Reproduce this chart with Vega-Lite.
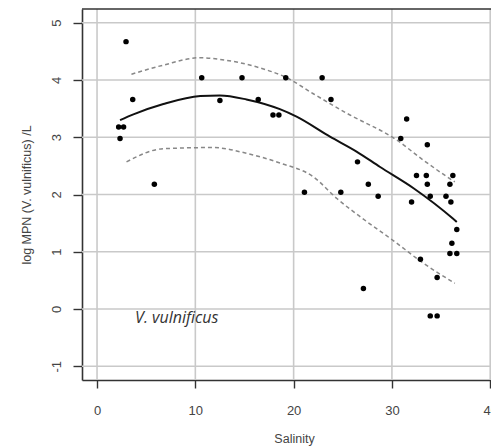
{
  "$schema": "https://vega.github.io/schema/vega-lite/v6.json",
  "width": 409,
  "height": 371,
  "autosize": {"type": "none"},
  "padding": {"left": 82, "top": 9, "right": 0, "bottom": 68},
  "background": "white",
  "config": {
    "view": {"stroke": null},
    "font": "Liberation Sans",
    "axis": {
      "grid": false,
      "domainColor": "#333333",
      "domainWidth": 1.6,
      "tickColor": "#333333",
      "tickWidth": 1.4,
      "labelFont": "Liberation Sans",
      "titleFont": "Liberation Sans",
      "labelColor": "#444444",
      "titleColor": "#444444",
      "labelFontSize": 13,
      "titleFontSize": 12.5,
      "titleFontWeight": "normal"
    }
  },
  "datasets": {
    "points": [
      {"salinity": 2.95, "logmpn": 4.67},
      {"salinity": 3.63, "logmpn": 3.66},
      {"salinity": 2.2, "logmpn": 3.18},
      {"salinity": 2.7, "logmpn": 3.18},
      {"salinity": 2.34, "logmpn": 2.98},
      {"salinity": 5.83, "logmpn": 2.18},
      {"salinity": 10.65, "logmpn": 4.04},
      {"salinity": 12.5, "logmpn": 3.64},
      {"salinity": 14.75, "logmpn": 4.04},
      {"salinity": 16.4, "logmpn": 3.66},
      {"salinity": 17.9, "logmpn": 3.39},
      {"salinity": 18.5, "logmpn": 3.39},
      {"salinity": 19.2, "logmpn": 4.04},
      {"salinity": 22.9, "logmpn": 4.04},
      {"salinity": 23.8, "logmpn": 3.66},
      {"salinity": 21.1, "logmpn": 2.04},
      {"salinity": 24.8, "logmpn": 2.04},
      {"salinity": 31.5, "logmpn": 3.32},
      {"salinity": 30.9, "logmpn": 2.98},
      {"salinity": 33.6, "logmpn": 2.87},
      {"salinity": 26.5, "logmpn": 2.57},
      {"salinity": 32.5, "logmpn": 2.33},
      {"salinity": 33.5, "logmpn": 2.33},
      {"salinity": 36.2, "logmpn": 2.33},
      {"salinity": 33.6, "logmpn": 2.18},
      {"salinity": 35.9, "logmpn": 2.18},
      {"salinity": 27.6, "logmpn": 2.18},
      {"salinity": 28.6, "logmpn": 1.97},
      {"salinity": 33.9, "logmpn": 1.97},
      {"salinity": 35.5, "logmpn": 1.97},
      {"salinity": 32.0, "logmpn": 1.87},
      {"salinity": 36.0, "logmpn": 1.87},
      {"salinity": 36.6, "logmpn": 1.39},
      {"salinity": 36.1, "logmpn": 1.15},
      {"salinity": 35.9, "logmpn": 0.97},
      {"salinity": 36.6, "logmpn": 0.97},
      {"salinity": 32.9, "logmpn": 0.87},
      {"salinity": 34.6, "logmpn": 0.55},
      {"salinity": 27.1, "logmpn": 0.36},
      {"salinity": 33.9, "logmpn": -0.12},
      {"salinity": 34.6, "logmpn": -0.12}
    ],
    "fit": [
      {"salinity": 2.34, "logmpn": 3.3},
      {"salinity": 3.7, "logmpn": 3.4},
      {"salinity": 6.75, "logmpn": 3.58},
      {"salinity": 10.5, "logmpn": 3.72},
      {"salinity": 12.5, "logmpn": 3.73},
      {"salinity": 15.2, "logmpn": 3.66},
      {"salinity": 18.6, "logmpn": 3.49},
      {"salinity": 20.3, "logmpn": 3.36},
      {"salinity": 23.7, "logmpn": 3.01},
      {"salinity": 26.4, "logmpn": 2.75},
      {"salinity": 28.8, "logmpn": 2.48},
      {"salinity": 32.2, "logmpn": 2.11},
      {"salinity": 36.2, "logmpn": 1.58},
      {"salinity": 36.6, "logmpn": 1.52}
    ],
    "upper": [
      {"salinity": 3.5, "logmpn": 4.1},
      {"salinity": 6.75, "logmpn": 4.26},
      {"salinity": 10.5, "logmpn": 4.39},
      {"salinity": 12.5, "logmpn": 4.36},
      {"salinity": 16.2, "logmpn": 4.23},
      {"salinity": 19.4, "logmpn": 4.03},
      {"salinity": 22.0, "logmpn": 3.76},
      {"salinity": 25.4, "logmpn": 3.42},
      {"salinity": 30.5, "logmpn": 2.95},
      {"salinity": 33.2, "logmpn": 2.6},
      {"salinity": 35.6, "logmpn": 2.31},
      {"salinity": 36.4, "logmpn": 2.22}
    ],
    "lower": [
      {"salinity": 3.0, "logmpn": 2.57},
      {"salinity": 6.75, "logmpn": 2.8},
      {"salinity": 11.8, "logmpn": 2.82},
      {"salinity": 15.2, "logmpn": 2.72},
      {"salinity": 18.6, "logmpn": 2.55},
      {"salinity": 22.0, "logmpn": 2.31},
      {"salinity": 24.4, "logmpn": 1.93},
      {"salinity": 27.1, "logmpn": 1.57},
      {"salinity": 30.1, "logmpn": 1.2},
      {"salinity": 33.2, "logmpn": 0.8},
      {"salinity": 36.4, "logmpn": 0.45}
    ],
    "label": [
      {"salinity": 3.87, "logmpn": -0.16, "text": "V. vulnificus"}
    ],
    "gridx": [
      {"salinity": 0}, {"salinity": 10}, {"salinity": 20}, {"salinity": 30}, {"salinity": 40}
    ],
    "gridy": [
      {"logmpn": -1}, {"logmpn": 0}, {"logmpn": 1}, {"logmpn": 2}, {"logmpn": 3}, {"logmpn": 4}, {"logmpn": 5}
    ],
    "frame": [
      {"logmpn": 5.24}
    ]
  },
  "layer": [
    {
      "data": {"name": "gridx"},
      "mark": {"type": "rule", "color": "#c9c9c9", "strokeWidth": 1.6},
      "encoding": {
        "x": {
          "field": "salinity",
          "type": "quantitative",
          "scale": {"domain": [-1.53, 40.08], "nice": false, "zero": false},
          "axis": {
            "title": "Salinity",
            "values": [0, 10, 20, 30, 40],
            "format": "d",
            "tickSize": 8,
            "labelPadding": 16,
            "titleX": 212,
            "titleY": 58,
            "titleBaseline": "middle",
            "labelFlush": false,
            "labelOverlap": false
          }
        }
      }
    },
    {
      "data": {"name": "gridy"},
      "mark": {"type": "rule", "color": "#c9c9c9", "strokeWidth": 1.6},
      "encoding": {
        "y": {
          "field": "logmpn",
          "type": "quantitative",
          "scale": {"domain": [-1.24, 5.24], "nice": false, "zero": false},
          "axis": {
            "title": "log MPN (V. vulnificus) /L",
            "values": [-1, 0, 1, 2, 3, 4, 5],
            "labelExpr": "datum.value < 0 ? '-' + abs(datum.value) : '' + datum.value",
            "tickSize": 9,
            "labelAngle": -90,
            "labelAlign": "center",
            "labelBaseline": "bottom",
            "labelPadding": 10,
            "titleX": -56,
            "titleBaseline": "middle",
            "labelFlush": false,
            "labelOverlap": false
          }
        }
      }
    },
    {
      "data": {"name": "upper"},
      "mark": {"type": "line", "color": "#888888", "strokeWidth": 1.5, "strokeDash": [4, 3], "interpolate": "monotone"},
      "encoding": {
        "x": {"field": "salinity", "type": "quantitative"},
        "y": {"field": "logmpn", "type": "quantitative"}
      }
    },
    {
      "data": {"name": "lower"},
      "mark": {"type": "line", "color": "#888888", "strokeWidth": 1.5, "strokeDash": [4, 3], "interpolate": "monotone"},
      "encoding": {
        "x": {"field": "salinity", "type": "quantitative"},
        "y": {"field": "logmpn", "type": "quantitative"}
      }
    },
    {
      "data": {"name": "fit"},
      "mark": {"type": "line", "color": "#111111", "strokeWidth": 2, "interpolate": "monotone"},
      "encoding": {
        "x": {"field": "salinity", "type": "quantitative"},
        "y": {"field": "logmpn", "type": "quantitative"}
      }
    },
    {
      "data": {"name": "points"},
      "mark": {"type": "circle", "color": "#000000", "opacity": 1, "size": 30},
      "encoding": {
        "x": {"field": "salinity", "type": "quantitative"},
        "y": {"field": "logmpn", "type": "quantitative"}
      }
    },
    {
      "data": {"name": "label"},
      "mark": {"type": "text", "font": "Open Sans", "fontStyle": "italic", "fontSize": 16, "color": "#333333", "align": "left", "baseline": "middle"},
      "encoding": {
        "x": {"field": "salinity", "type": "quantitative"},
        "y": {"field": "logmpn", "type": "quantitative"},
        "text": {"field": "text"}
      }
    },
    {
      "data": {"name": "frame"},
      "mark": {"type": "rule", "color": "#333333", "strokeWidth": 1.6},
      "encoding": {"y": {"field": "logmpn", "type": "quantitative"}}
    }
  ]
}
